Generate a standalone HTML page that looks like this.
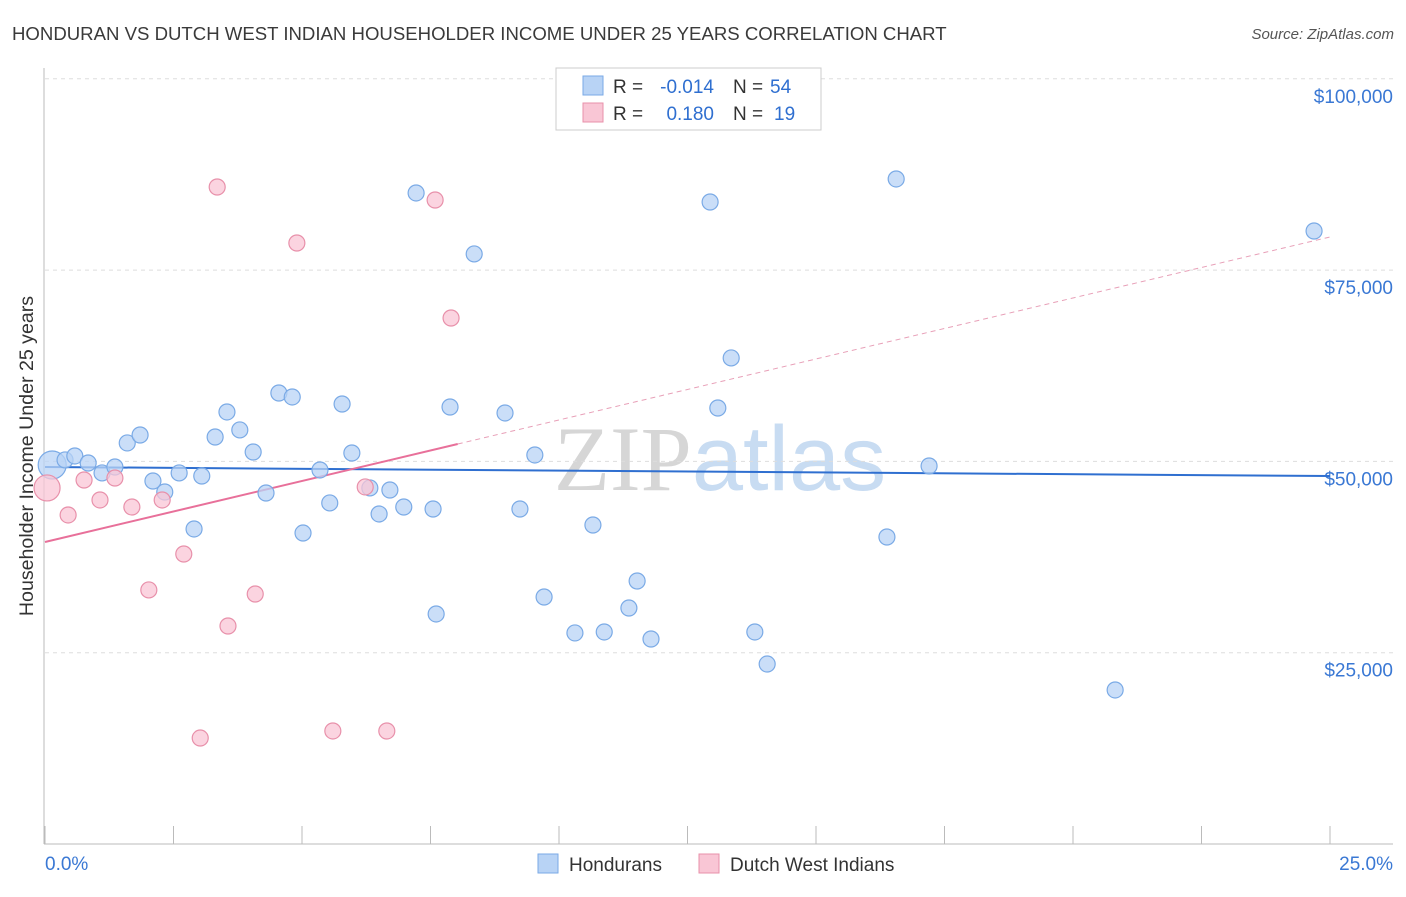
<!DOCTYPE html>
<html><head><meta charset="utf-8"><style>
body{margin:0;background:#fff;font-family:"Liberation Sans",sans-serif;}
svg text{font-family:"Liberation Sans",sans-serif;}
</style></head><body>
<svg id="chart" width="1406" height="892" xmlns="http://www.w3.org/2000/svg">
<text x="12" y="40" font-size="18.6" fill="#3a3a3a">HONDURAN VS DUTCH WEST INDIAN HOUSEHOLDER INCOME UNDER 25 YEARS CORRELATION CHART</text>
<text x="1394" y="39" font-size="15" fill="#555" font-style="italic" text-anchor="end">Source: ZipAtlas.com</text>
<g font-size="92" text-anchor="middle"><text x="720" y="490"><tspan fill="#d6d6d6" font-family="Liberation Serif">ZIP</tspan><tspan fill="#c8dcf2">atlas</tspan></text></g>
<text transform="translate(33,456) rotate(-90)" font-size="19.6" fill="#333" text-anchor="middle">Householder Income Under 25 years</text>
<g id="grid"></g><g id="axes"></g><g id="lines"></g><g id="points"></g>
<g font-size="19">
<rect x="556" y="68" width="265" height="62" fill="#fff" stroke="#ccc"/>
<rect x="583" y="76" width="20" height="19" fill="#b8d3f5" stroke="#7aaae6"/>
<rect x="583" y="103" width="20" height="19" fill="#f9c6d5" stroke="#e890aa"/>
<text x="613" y="93" fill="#333">R =</text>
<text x="714" y="93" fill="#2f6fd0" text-anchor="end">-0.014</text>
<text x="733" y="93" fill="#333">N =</text>
<text x="770" y="93" fill="#2f6fd0">54</text>
<text x="613" y="120" fill="#333">R =</text>
<text x="714" y="120" fill="#2f6fd0" text-anchor="end">0.180</text>
<text x="733" y="120" fill="#333">N =</text>
<text x="774" y="120" fill="#2f6fd0">19</text>
</g>
<g>
<rect x="538" y="854" width="20" height="19" fill="#b8d3f5" stroke="#7aaae6"/>
<text x="569" y="871" font-size="19" fill="#333">Hondurans</text>
<rect x="699" y="854" width="20" height="19" fill="#f9c6d5" stroke="#e890aa"/>
<text x="730" y="871" font-size="19" fill="#333">Dutch West Indians</text>
</g>
</svg>
<script>
const yTicks=[25000,50000,75000,100000];
const yTickLabels=["$25,000","$50,000","$75,000","$100,000"];
const xTickLabels=["0.0%","25.0%"];
const hondX=[0.14,0.39,0.58,0.84,1.11,1.36,1.60,1.85,2.10,2.33,2.61,2.90,3.05,3.31,3.54,3.79,4.05,4.30,4.55,4.81,5.02,5.35,5.54,5.78,5.97,6.32,6.50,6.71,6.98,7.22,7.55,7.61,7.88,8.35,8.95,9.24,9.53,9.71,10.31,10.66,10.88,11.36,11.52,11.79,12.94,13.09,13.35,13.81,14.05,16.38,16.56,17.20,20.82,24.69];
const hondY=[49530,50190,50710,49790,48490,49270,52410,53450,47440,46000,48490,41170,48090,53190,56460,54110,51230,45870,58940,58420,40640,48880,44570,57500,51100,46530,43130,46260,44040,85080,43780,30060,57110,77110,56330,43780,50840,32280,27580,41690,27710,30840,34370,26790,83900,56980,63520,27710,23520,40120,86910,49400,20130,80110];
const dutchX=[0.04,0.45,0.76,1.07,1.36,1.69,2.02,2.28,2.70,3.02,3.35,3.56,4.09,4.90,5.60,6.23,6.65,7.59,7.90];
const dutchY=[46530,43000,47570,44960,47830,44040,33200,44960,37900,13850,85860,28490,32670,78540,14770,46660,14770,84160,68740];
const hondTrend=[49270,48090];
const dutchTrend=[39470,79330];
const dutchSolidEnd=8.03;
const NS="http://www.w3.org/2000/svg";
const xs=v=>45+v/25*1285;
const ys=v=>844-v/25000*191.3;
function mk(tag,attrs,parent){const e=document.createElementNS(NS,tag);for(const k in attrs)e.setAttribute(k,attrs[k]);document.getElementById(parent).appendChild(e);return e;}
yTicks.forEach((t,i)=>{
 const g=mk('line',{x1:45,x2:1393,y1:ys(t),y2:ys(t),stroke:'#ddd','stroke-dasharray':'4,4'},'grid');
 
 
 const l=mk('text',{x:1393,y:ys(t)+24,'font-size':19,fill:'#3a78d4','text-anchor':'end'},'grid');
 l.textContent=yTickLabels[i];
 
 
});
const ax=mk('line',{x1:44,x2:44,y1:68,y2:844,stroke:'#bbb'},'axes');


const bx=mk('line',{x1:44,x2:1393,y1:844,y2:844,stroke:'#bbb'},'axes');


for(let i=0;i<=10;i++){const t=mk('line',{x1:xs(i*2.5),x2:xs(i*2.5),y1:826,y2:844,stroke:'#bbb'},'axes');
 
 }
[[0,'start',45],[25,'end',1393]].forEach((d,i)=>{const t=mk('text',{x:d[2],y:870,'font-size':19,fill:'#3a78d4','text-anchor':d[1]},'axes');t.textContent=xTickLabels[i];
 
 });
function dot(x,y,r,fill,stroke,name){const c=mk('circle',{cx:xs(x),cy:ys(y),r:r,fill:fill,'fill-opacity':0.75,stroke:stroke,'stroke-width':1.2},'points');
 
 }
hondX.forEach((x,i)=>dot(x,hondY[i],i===0?14:8,'#b8d3f5','#7aaae6','honduran-point'));
dutchX.forEach((x,i)=>dot(x,dutchY[i],i===0?13:8,'#f9c6d5','#e890aa','dutch-west-indian-point'));
const hl=mk('line',{x1:xs(0),x2:xs(25),y1:ys(hondTrend[0]),y2:ys(hondTrend[1]),stroke:'#2f6fd0','stroke-width':2},'lines');


const dAt=x=>dutchTrend[0]+(dutchTrend[1]-dutchTrend[0])*x/25;
const dl=mk('line',{x1:xs(0),x2:xs(dutchSolidEnd),y1:ys(dAt(0)),y2:ys(dAt(dutchSolidEnd)),stroke:'#e8709a','stroke-width':2},'lines');


const dd=mk('line',{x1:xs(dutchSolidEnd),x2:xs(25),y1:ys(dAt(dutchSolidEnd)),y2:ys(dAt(25)),stroke:'#e8a0b8','stroke-width':1,'stroke-dasharray':'5,4'},'lines');


</script>
</body></html>
